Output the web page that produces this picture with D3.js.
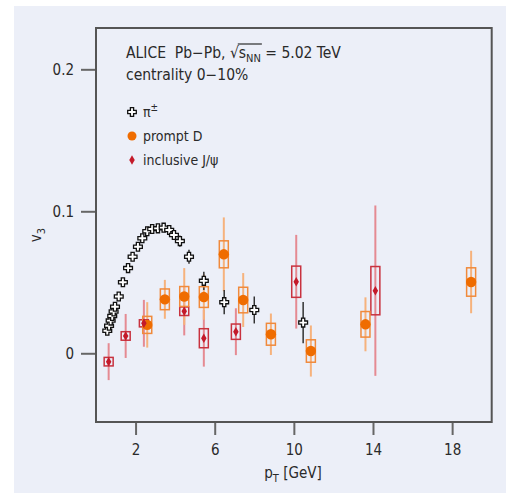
<!DOCTYPE html>
<html><head><meta charset="utf-8">
<script src="https://cdn.jsdelivr.net/npm/d3@7"></script>
<style>
body{margin:0;background:#fff}
text{font-family:"Liberation Sans Narrow","DejaVu Sans Condensed","Roboto",sans-serif;fill:#2a2a2a}
</style>
</head><body>
<svg id="c" width="506" height="493"></svg>
<script>
// ---- data ----
const pionPt  = [0.57,0.66,0.74,0.82,0.89,0.96,1.15,1.36,1.62,1.85,2.12,2.34,2.59,2.84,3.13,3.42,3.70,3.94,4.24,4.70,5.45,6.48,8.0,10.47];
const pionV3  = [0.0159,0.0194,0.023,0.0263,0.0294,0.0328,0.040,0.050,0.060,0.068,0.075,0.081,0.086,0.0875,0.088,0.0885,0.0868,0.0833,0.079,0.068,0.051,0.036,0.0305,0.0216];
const pionErr = [0.001,0.001,0.001,0.001,0.001,0.001,0.001,0.001,0.001,0.001,0.001,0.001,0.001,0.001,0.001,0.001,0.002,0.003,0.004,0.005,0.0065,0.0085,0.0095,0.0145];

const dPt   = [2.59,3.48,4.46,5.45,6.46,7.44,8.84,10.86,13.62,18.96];
const dV3   = [0.020,0.038,0.040,0.0396,0.0697,0.0375,0.0134,0.0016,0.0204,0.0502];
const dStat = [0.016,0.0137,0.020,0.016,0.026,0.019,0.0146,0.018,0.019,0.022];
const dSyst = [0.006,0.0073,0.0070,0.0073,0.0095,0.009,0.0077,0.0079,0.009,0.010];

const jPt   = [0.64,1.5,2.42,4.46,5.45,7.07,10.12,14.12];
const jV3   = [-0.0059,0.0122,0.0211,0.0296,0.0106,0.0152,0.0504,0.0441];
const jStat = [0.013,0.0155,0.0165,0.017,0.020,0.0165,0.033,0.06];
const jSyst = [0.003,0.003,0.0025,0.003,0.0067,0.0054,0.011,0.017];

const xTicks = [2,6,10,14,18];
const yTicks = [0,0.1,0.2];
const yTickLabels = ["0","0.1","0.2"];

// ---- layout ----
const svg = d3.select("#c");
svg.append("rect").attr("x",14).attr("y",6).attr("width",492).attr("height",487).attr("fill","#eceff8");

const L=96, R=491.7, T=28, B=422;
const x = d3.scaleLinear().domain([0,20]).range([L,R]);
const y = d3.scaleLinear().domain([-0.0484,0.2291]).range([B,T]);

// axes
const gx = svg.append("g").attr("transform",`translate(0,${B})`)
  .call(d3.axisBottom(x).tickValues(xTicks).tickSize(13).tickPadding(9).tickFormat(d3.format("d")));
const gy = svg.append("g").attr("transform",`translate(${L},0)`)
  .call(d3.axisLeft(y).tickValues(yTicks).tickSize(15).tickPadding(7).tickFormat((d,i)=>yTickLabels[i]));
[gx,gy].forEach(g=>{
  g.select(".domain").remove();
  g.selectAll(".tick line").attr("stroke","#666").attr("stroke-width",2);
  g.selectAll(".tick text").attr("font-size",15).attr("fill","#2a2a2a")
   .attr("font-family",'"Liberation Sans Narrow","DejaVu Sans Condensed",sans-serif');
});

// frame
svg.append("rect").attr("x",L).attr("y",T).attr("width",R-L).attr("height",B-T)
  .attr("fill","none").attr("stroke","#555").attr("stroke-width",2);

const plot = svg.append("g");

// colours
const cD = "#ef6c00", cDbar = "#f6b27c", cDbox = "#f08a3c";
const cJ = "#c41a2a", cJbar = "#e58a92", cJbox = "#c8323f";

// error bars
function bars(pt,v,e,col,w){
  plot.append("g").selectAll("line").data(pt).join("line")
    .attr("x1",(d)=>x(d)).attr("x2",(d)=>x(d))
    .attr("y1",(d,i)=>y(v[i]+e[i])).attr("y2",(d,i)=>y(v[i]-e[i]))
    .attr("stroke",col).attr("stroke-width",w);
}
function boxes(pt,v,s,col,hw){
  plot.append("g").selectAll("rect").data(pt).join("rect")
    .attr("x",(d)=>x(d)-hw).attr("width",2*hw)
    .attr("y",(d,i)=>y(v[i]+s[i])).attr("height",(d,i)=>y(v[i]-s[i])-y(v[i]+s[i]))
    .attr("fill","none").attr("stroke",col).attr("stroke-width",1.5);
}
bars(jPt,jV3,jStat,cJbar,2);
bars(dPt,dV3,dStat,cDbar,2);
bars(pionPt,pionV3,pionErr,"#333",1.5);
boxes(jPt,jV3,jSyst,cJbox,4.5);
boxes(dPt,dV3,dSyst,cDbox,4.5);

// markers
const crossPath = (a,w)=>`M${-w},${-a}H${w}V${-w}H${a}V${w}H${w}V${a}H${-w}V${w}H${-a}V${-w}H${-w}Z`;
const diamond = d3.symbol().type(d3.symbolDiamond).size(26)();

plot.append("g").selectAll("circle").data(dPt).join("circle")
  .attr("cx",d=>x(d)).attr("cy",(d,i)=>y(dV3[i])).attr("r",5.2).attr("fill",cD);
plot.append("g").selectAll("path").data(jPt).join("path")
  .attr("transform",(d,i)=>`translate(${x(d)},${y(jV3[i])})`).attr("d",diamond).attr("fill",cJ);
plot.append("g").selectAll("path").data(pionPt).join("path")
  .attr("transform",(d,i)=>`translate(${x(d)},${y(pionV3[i])})`).attr("d",crossPath(4.4,1.6))
  .attr("fill","#fff").attr("stroke","#111").attr("stroke-width",1.3);

// title
const t1 = svg.append("text").attr("x",126).attr("y",58).attr("font-size",15.5).style("white-space","pre");
t1.append("tspan").text("ALICE  Pb\u2212Pb, \u221a");
t1.append("tspan").text("s");
t1.append("tspan").attr("font-size",11).attr("dy",4).text("NN");
t1.append("tspan").attr("dy",-4).text(" = 5.02 TeV");
// overline over s_NN
const txt = t1.node();
const s0 = "ALICE  Pb\u2212Pb, \u221a".length;
const xs = txt.getStartPositionOfChar(s0).x;
const xe = txt.getEndPositionOfChar(s0+2).x;
svg.append("line").attr("x1",xs-1).attr("x2",xe+1).attr("y1",44).attr("y2",44)
  .attr("stroke","#2a2a2a").attr("stroke-width",1.2);

svg.append("text").attr("x",126).attr("y",80).attr("font-size",15.5).text("centrality 0\u221210%");

// legend
const lgY = [112,136,160];
svg.append("path").attr("transform",`translate(132,${lgY[0]})`).attr("d",crossPath(4.3,1.6))
  .attr("fill","#fff").attr("stroke","#111").attr("stroke-width",1.3);
svg.append("circle").attr("cx",132).attr("cy",lgY[1]).attr("r",4.5).attr("fill",cD);
svg.append("path").attr("transform",`translate(132,${lgY[2]})`).attr("d",diamond).attr("fill",cJ);

const lp = svg.append("text").attr("x",143).attr("y",lgY[0]+5).attr("font-size",14);
lp.append("tspan").text("\u03c0");
lp.append("tspan").attr("font-size",10).attr("dy",-6).text("\u00b1");
svg.append("text").attr("x",143).attr("y",lgY[1]+5).attr("font-size",14).text("prompt D");
svg.append("text").attr("x",143).attr("y",lgY[2]+5).attr("font-size",14).text("inclusive J/\u03c8");

// axis titles
const xt = svg.append("text").attr("x",293).attr("y",478).attr("text-anchor","middle").attr("font-size",15);
xt.append("tspan").text("p");
xt.append("tspan").attr("font-size",11).attr("dy",4).text("T");
xt.append("tspan").attr("dy",-4).text(" [GeV]");

const yt = svg.append("text").attr("transform","translate(41,235) rotate(-90)").attr("text-anchor","middle").attr("font-size",15);
yt.append("tspan").text("v");
yt.append("tspan").attr("font-size",11).attr("dy",4).text("3");
</script>
</body></html>
